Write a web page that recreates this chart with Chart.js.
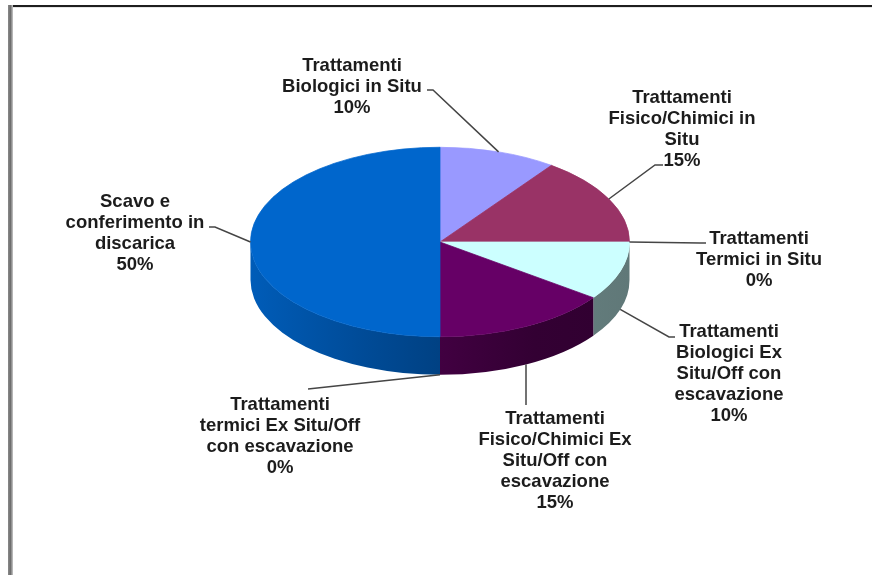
<!DOCTYPE html>
<html>
<head>
<meta charset="utf-8">
<script src="https://cdn.jsdelivr.net/npm/chart.js@4/dist/chart.umd.min.js"></script>
<style>
  html, body { margin: 0; padding: 0; background: #ffffff; }
  canvas { display: block; }
</style>
</head>
<body>
<canvas id="pie" width="872" height="575"></canvas>
<script>
// Categories (wrapped into label lines) and their shares, clockwise from 12 o'clock
const categories = [
  ['Trattamenti', 'Biologici in Situ'],
  ['Trattamenti', 'Fisico/Chimici in', 'Situ'],
  ['Trattamenti', 'Termici in Situ'],
  ['Trattamenti', 'Biologici Ex', 'Situ/Off con', 'escavazione'],
  ['Trattamenti', 'Fisico/Chimici Ex', 'Situ/Off con', 'escavazione'],
  ['Trattamenti', 'termici Ex Situ/Off', 'con escavazione'],
  ['Scavo e', 'conferimento in', 'discarica']
];
const shares = [10, 15, 0, 10, 15, 0, 50];
const sliceColors = ['#9999FF', '#993366', '#FFFFCC', '#CCFFFF', '#660066', '#FF8080', '#0066CC'];

// 3D look: vertical squash of the top face and thickness of the side wall
const PIE = { tilt: 0.5, depth: 38 };

// Label text style and placement (centre x, centre y of first line, leader bend and end)
const LABEL_FONT = 'bold 18.5px "Liberation Sans", Arial, sans-serif';
const LINE_H = 21;
const labelLayout = [
  { x: 352, y: 66,  bend: [433, 90],  end: [427, 90] },
  { x: 682, y: 98,  bend: [655, 165], end: [663, 165] },
  { x: 759, y: 239, bend: [700, 243], end: [706, 243] },
  { x: 729, y: 332, bend: [669, 337], end: [675, 337] },
  { x: 555, y: 419, bend: [526, 405], end: [526, 405] },
  { x: 280, y: 405, bend: [308, 389], end: [308, 389] },
  { x: 135, y: 202, bend: [215, 227], end: [209, 227] }
];

function shade(hex, f) {
  const n = parseInt(hex.slice(1), 16);
  const r = Math.round(((n >> 16) & 255) * f);
  const g = Math.round(((n >> 8) & 255) * f);
  const b = Math.round((n & 255) * f);
  return `rgb(${r},${g},${b})`;
}

function pieGeometry(chart) {
  const arc = chart.getDatasetMeta(0).data[0];
  return { cx: arc.x, cy: arc.y, rx: arc.outerRadius, ry: arc.outerRadius * PIE.tilt, d: PIE.depth };
}

// Page frame drawn on a white background
const framePlugin = {
  id: 'frame',
  beforeDraw(chart) {
    const ctx = chart.ctx;
    ctx.save();
    ctx.fillStyle = '#ffffff';
    ctx.fillRect(0, 0, chart.width, chart.height);
    ctx.fillStyle = '#1e1e1e';
    ctx.fillRect(9, 5, chart.width - 9, 2);
    ctx.fillStyle = '#e6e6e6';
    ctx.fillRect(12, 7, chart.width - 12, 1);
    const g = ctx.createLinearGradient(8, 0, 13, 0);
    g.addColorStop(0, '#8a8a8a');
    g.addColorStop(0.5, '#6e6e6e');
    g.addColorStop(1, '#c8c8c8');
    ctx.fillStyle = g;
    ctx.fillRect(8, 5, 5, chart.height - 5);
    ctx.restore();
  }
};

// Side wall under the front half, then squash the slices into an ellipse
const tiltPlugin = {
  id: 'tilt3d',
  beforeDatasetsDraw(chart) {
    const ctx = chart.ctx;
    const { cx, cy, rx, ry, d } = pieGeometry(chart);
    const meta = chart.getDatasetMeta(0);
    meta.data.forEach((arc, i) => {
      const a1 = Math.max(arc.startAngle, 0);
      const a2 = Math.min(arc.endAngle, Math.PI);
      if (a2 - a1 <= 1e-6) return;
      const base = sliceColors[i];
      const g = ctx.createLinearGradient(cx - rx, 0, cx + rx, 0);
      g.addColorStop(0, shade(base, 0.9));
      g.addColorStop(0.3, shade(base, 0.74));
      g.addColorStop(0.5, shade(base, 0.64));
      g.addColorStop(0.75, shade(base, 0.5));
      g.addColorStop(1, shade(base, 0.47));
      ctx.save();
      ctx.fillStyle = g;
      ctx.beginPath();
      ctx.ellipse(cx, cy, rx, ry, 0, a1, a2);
      ctx.ellipse(cx, cy + d, rx, ry, 0, a2, a1, true);
      ctx.closePath();
      ctx.fill();
      ctx.restore();
    });
    ctx.save();
    ctx.translate(cx, cy);
    ctx.scale(1, PIE.tilt);
    ctx.translate(-cx, -cy);
  },
  afterDatasetsDraw(chart) {
    chart.ctx.restore();
  }
};

// Category name + percentage with leader lines
const labelPlugin = {
  id: 'sliceLabels',
  afterDraw(chart) {
    const ctx = chart.ctx;
    const { cx, cy, rx, ry, d } = pieGeometry(chart);
    const meta = chart.getDatasetMeta(0);
    const total = shares.reduce((s, v) => s + v, 0);
    ctx.save();
    meta.data.forEach((arc, i) => {
      const lay = labelLayout[i];
      const mid = (arc.startAngle + arc.endAngle) / 2;
      const front = Math.sin(mid) > 1e-6;
      const ax = cx + rx * Math.cos(mid);
      const ay = cy + ry * Math.sin(mid) + (front ? d : 0);
      ctx.strokeStyle = '#454545';
      ctx.lineWidth = 1.5;
      ctx.beginPath();
      ctx.moveTo(ax, ay);
      ctx.lineTo(lay.bend[0], lay.bend[1]);
      ctx.lineTo(lay.end[0], lay.end[1]);
      ctx.stroke();

      const pct = Math.round(shares[i] / total * 100) + '%';
      const lines = categories[i].concat([pct]);
      ctx.font = LABEL_FONT;
      ctx.fillStyle = '#1c1c1c';
      ctx.textAlign = 'center';
      ctx.textBaseline = 'middle';
      lines.forEach((t, k) => ctx.fillText(t, lay.x, lay.y + k * LINE_H));
    });
    ctx.restore();
  }
};

new Chart(document.getElementById('pie'), {
  type: 'pie',
  data: {
    labels: categories,
    datasets: [{
      data: shares,
      backgroundColor: sliceColors,
      borderColor: sliceColors,
      borderWidth: 1,
      hoverOffset: 0,
      offset: 0
    }]
  },
  options: {
    responsive: false,
    animation: false,
    layout: { padding: { left: 250, right: 242, top: 52, bottom: 143 } },
    plugins: {
      legend: { display: false },
      tooltip: { enabled: false }
    }
  },
  plugins: [framePlugin, tiltPlugin, labelPlugin]
});
</script>
</body>
</html>
